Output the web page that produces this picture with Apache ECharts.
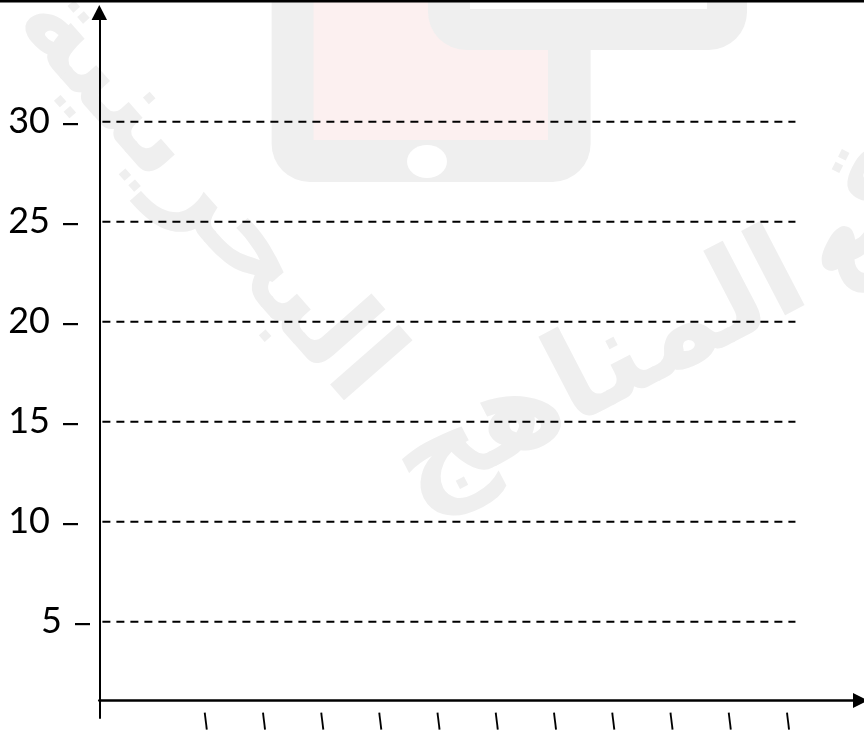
<!DOCTYPE html>
<html>
<head>
<meta charset="utf-8">
<script src="https://cdn.jsdelivr.net/npm/echarts@6/dist/echarts.min.js"></script>
<style>
html,body{margin:0;padding:0;background:#ffffff;}
#chart{width:864px;height:731px;}
</style>
</head>
<body>
<div id="chart"></div>
<script>
// ---- data ----
const yTickLabels = [5, 10, 15, 20, 25, 30];
const guideValues = [5, 10, 15, 20, 25, 30];
const xTickPositions = [1, 2, 3, 4, 5, 6, 7, 8, 9, 10, 11];
const watermarkWords = ['موقع', 'المناهج', 'البحرينية'];

// ---- axis ranges / styling constants ----
const X_MIN = -0.843, X_MAX = 12.227;
const Y_MIN = 0.185, Y_MAX = 35.46;
const GUIDE_X0 = -0.79, GUIDE_X1 = 11.11;

const chart = echarts.init(document.getElementById('chart'), null, {renderer: 'canvas'});

const WM = '#efefef';
const graphics = [
  {type: 'rect', z: -5, shape: {x: 271.6, y: -40, width: 319, height: 222, r: 38}, style: {fill: WM}},
  {type: 'rect', z: -5, shape: {x: 313.5, y: -10, width: 234.5, height: 150}, style: {fill: '#fcf0f0'}},
  {type: 'rect', z: -5, shape: {x: 428, y: -40, width: 319, height: 90, r: 38}, style: {fill: WM}},
  {type: 'rect', z: -5, shape: {x: 470, y: -10, width: 237, height: 19}, style: {fill: '#ffffff'}},
  {type: 'ellipse', z: -5, shape: {cx: 427, cy: 161.5, rx: 20, ry: 16.5}, style: {fill: '#ffffff'}},
  {type: 'text', z: -5, x: 890, y: 150, rotation: 1.1,
    style: {text: watermarkWords[0], font: 'bold 115px "DejaVu Sans"', fill: WM, align: 'center', verticalAlign: 'middle'}},
  {type: 'text', z: -5, x: 600, y: 375, rotation: 0.48,
    style: {text: watermarkWords[1], font: 'bold 125px "DejaVu Sans"', fill: WM, align: 'center', verticalAlign: 'middle'}},
  {type: 'text', z: -5, x: 205, y: 195, rotation: -0.85,
    style: {text: watermarkWords[2], font: 'bold 120px "DejaVu Sans"', fill: WM, align: 'center', verticalAlign: 'middle'}},
  {type: 'rect', z: 50, shape: {x: 0, y: 0, width: 864, height: 2.6}, style: {fill: '#000000'}}
];

const option = {
  animation: false,
  backgroundColor: '#ffffff',
  graphic: graphics,
  grid: {left: 99.3, right: 3.5, top: 12.5, bottom: 13, containLabel: false},
  xAxis: {
    type: 'value',
    min: X_MIN,
    max: X_MAX,
    offset: -17.5,
    axisLine: {
      show: true, onZero: false,
      lineStyle: {color: '#000000', width: 2.5},
      symbol: ['none', 'triangle'], symbolSize: [15, 15]
    },
    axisTick: {show: false},
    splitLine: {show: false},
    axisLabel: {
      customValues: xTickPositions,
      formatter: function () { return '{t||}'; },
      rotate: 7,
      align: 'center',
      verticalAlign: 'top',
      margin: 12,
      rich: {
        t: {fontFamily: 'DejaVu Sans', fontWeight: 'bold', fontSize: 17, lineHeight: 17, color: '#000000', padding: [0, 4, 0, 0]}
      }
    }
  },
  yAxis: {
    type: 'value',
    min: Y_MIN,
    max: Y_MAX,
    axisLine: {
      show: true, onZero: false,
      lineStyle: {color: '#000000', width: 2},
      symbol: ['none', 'triangle'], symbolSize: [15.5, 15]
    },
    axisTick: {show: false},
    splitLine: {show: false},
    axisLabel: {
      customValues: yTickLabels,
      formatter: function (v) {
        return '{n|' + v + '}{box| }' + (v === 5 ? '' : '{gap| }');
      },
      margin: 9.3,
      rich: {
        n: {fontFamily: 'Lato', fontSize: 36, lineHeight: 7, color: '#000000', padding: [0, 13, 0, 0]},
        box: {width: 15, height: 2.2, lineHeight: 7, fontSize: 10, backgroundColor: '#000000', verticalAlign: 'bottom'},
        gap: {width: 12, lineHeight: 7, fontSize: 10}
      }
    }
  },
  series: guideValues.map(function (v) {
    return {
      type: 'line',
      data: [[GUIDE_X0, v], [GUIDE_X1, v]],
      symbol: 'none',
      silent: true,
      lineStyle: {color: '#000000', width: 2, type: [8, 6]}
    };
  })
};
chart.setOption(option);
</script>
</body>
</html>
